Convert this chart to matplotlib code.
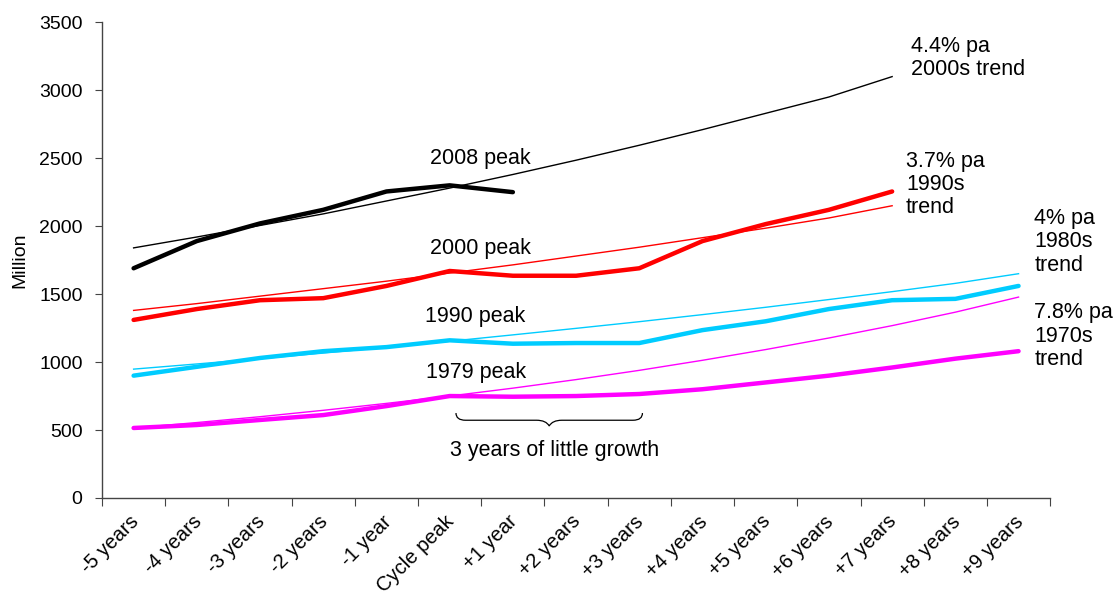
import numpy as np
import matplotlib
matplotlib.use('Agg')
import matplotlib.pyplot as plt
import matplotlib.transforms as mtransforms
from matplotlib.path import Path
from matplotlib.patches import PathPatch

plt.rcParams['font.family'] = ['Liberation Sans', 'DejaVu Sans']

categories = ['-5 years', '-4 years', '-3 years', '-2 years', '-1 year',
              'Cycle peak', '+1 year', '+2 years', '+3 years', '+4 years',
              '+5 years', '+6 years', '+7 years', '+8 years', '+9 years']

# actual series, aligned on cycle peak
peak_2008 = [1690, 1890, 2020, 2120, 2255, 2300, 2250]
peak_2000 = [1310, 1390, 1455, 1470, 1560, 1670, 1635, 1635, 1690, 1890,
             2015, 2120, 2255]
peak_1990 = [900, 965, 1030, 1080, 1110, 1160, 1135, 1140, 1140, 1235,
             1300, 1390, 1455, 1465, 1560]
peak_1979 = [515, 537, 574, 610, 676, 750, 745, 750, 765, 800,
             850, 900, 960, 1025, 1080]

# trend lines
trend_2000s = [1840, 1920, 2005, 2090, 2185, 2280, 2380, 2485, 2595, 2710,
               2830, 2950, 3100]
trend_1990s = [1380, 1430, 1485, 1540, 1595, 1655, 1715, 1780, 1845, 1915,
               1985, 2060, 2150]
trend_1980s = [948, 986, 1025, 1066, 1109, 1153, 1200, 1248, 1297, 1349,
               1403, 1460, 1518, 1579, 1650]
trend_1970s = [515, 555, 598, 645, 696, 750, 808, 871, 939, 1013,
               1092, 1177, 1268, 1367, 1478]

RED = '#FF0000'
CYAN = '#00CCFF'
MAGENTA = '#FF00FF'
FS = 15.5

fig = plt.figure(figsize=(11.16, 6.01), dpi=100)
ax = fig.add_axes([0.0914, 0.1714, 0.8496, 0.7916])

x = np.arange(len(categories))

ax.plot(x[:len(trend_2000s)], trend_2000s, color='black', lw=1.0)
ax.plot(x[:len(trend_1990s)], trend_1990s, color=RED, lw=1.0)
ax.plot(x[:len(trend_1980s)], trend_1980s, color=CYAN, lw=1.0)
ax.plot(x[:len(trend_1970s)], trend_1970s, color=MAGENTA, lw=1.0)

ax.plot(x[:len(peak_1979)], peak_1979, color=MAGENTA, lw=3.2,
        solid_capstyle='round')
ax.plot(x[:len(peak_1990)], peak_1990, color=CYAN, lw=3.2,
        solid_capstyle='round')
ax.plot(x[:len(peak_2000)], peak_2000, color=RED, lw=3.2,
        solid_capstyle='round')
ax.plot(x[:len(peak_2008)], peak_2008, color='black', lw=3.2,
        solid_capstyle='round')

ax.set_xlim(-0.5, len(categories) - 0.5)
ax.set_ylim(0, 3500)
ax.set_yticks(np.arange(0, 3501, 500))
ax.set_xticks(np.arange(-0.5, len(categories), 1.0))
ax.set_xticklabels([])
ax.set_xticks(x, minor=True)
ax.set_xticklabels(categories, minor=True, rotation=45, ha='right',
                   rotation_mode='anchor', fontsize=14.5)
ax.tick_params(axis='x', which='minor', length=0, pad=10)
ax.tick_params(axis='x', which='major', length=6, color='#444444')
ax.tick_params(axis='y', length=5, color='#444444', labelsize=14, pad=9)
# nudge the slanted category labels a little to the left
shift = mtransforms.ScaledTranslation(-5 / 100, 0, fig.dpi_scale_trans)
for lbl in ax.get_xticklabels(minor=True):
    lbl.set_transform(lbl.get_transform() + shift)
for side in ('top', 'right'):
    ax.spines[side].set_visible(False)
for side in ('left', 'bottom'):
    ax.spines[side].set_color('#444444')
    ax.spines[side].set_linewidth(1.0)
ax.set_ylabel('Million', fontsize=14, labelpad=8)

# peak labels
ax.text(5.49, 2500, '2008 peak', fontsize=FS, ha='center', va='center')
ax.text(5.49, 1838, '2000 peak', fontsize=FS, ha='center', va='center')
ax.text(5.41, 1338, '1990 peak', fontsize=FS, ha='center', va='center')
ax.text(5.41, 926, '1979 peak', fontsize=FS, ha='center', va='center')

# trend labels
ax.text(12.3, 3400, '4.4% pa\n2000s trend', fontsize=FS, va='top',
        linespacing=1.15)
ax.text(12.22, 2555, '3.7% pa\n1990s\ntrend', fontsize=FS, va='top',
        linespacing=1.15)
ax.text(14.25, 2135, '4% pa\n1980s\ntrend', fontsize=FS, va='top',
        linespacing=1.15)
ax.text(14.25, 1440, '7.8% pa\n1970s\ntrend', fontsize=FS, va='top',
        linespacing=1.15)

# brace under the flat stretch after the 1979 peak
x0, x1 = 5.1, 8.05
xm = (x0 + x1) / 2
y_top, y_mid, y_tip = 625, 572, 530
verts = [
    (x0, y_top), (x0, y_mid), (x0 + 0.15, y_mid), (x0 + 0.4, y_mid),
    (xm - 0.2, y_mid), (xm - 0.05, y_mid), (xm, y_tip),
    (xm + 0.05, y_mid), (xm + 0.2, y_mid), (x1 - 0.4, y_mid),
    (x1 - 0.15, y_mid), (x1, y_mid), (x1, y_top),
]
codes = [Path.MOVETO, Path.CURVE3, Path.CURVE3, Path.LINETO,
         Path.LINETO, Path.CURVE3, Path.CURVE3,
         Path.CURVE3, Path.CURVE3, Path.LINETO,
         Path.LINETO, Path.CURVE3, Path.CURVE3]
ax.add_patch(PathPatch(Path(verts, codes), facecolor='none',
                       edgecolor='black', lw=0.9))
ax.text(6.66, 353, '3 years of little growth', fontsize=FS,
        ha='center', va='center')

fig.savefig('out.png', dpi=100, facecolor='white')
